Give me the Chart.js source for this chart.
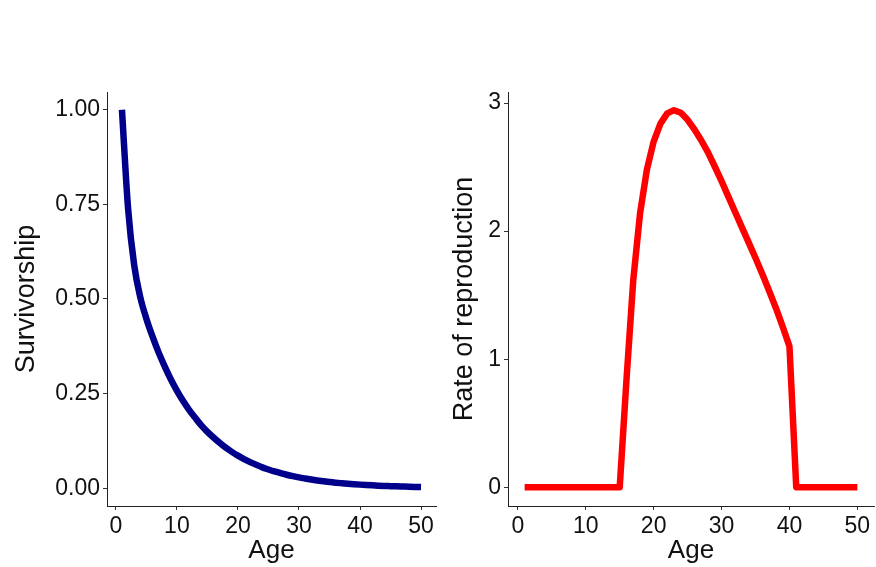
<!DOCTYPE html>
<html>
<head>
<meta charset="utf-8">
<script src="https://cdn.jsdelivr.net/npm/chart.js@4"></script>
<style>
    html, body { margin: 0; padding: 0; background: #fff; }
    #wrap { position: relative; width: 876px; height: 567px; }
    #left-chart { position: absolute; left: 0; top: 0; }
    #right-chart { position: absolute; left: 445px; top: 0; }
</style>
</head>
<body>
<div id="wrap">
    <canvas id="left-chart" width="445" height="567"></canvas>
    <canvas id="right-chart" width="431" height="567"></canvas>
</div>
<script>
const ages = [1, 2, 3, 4, 5, 6, 7, 8, 9, 10,
    11, 12, 13, 14, 15, 16, 17, 18, 19, 20,
    21, 22, 23, 24, 25, 26, 27, 28, 29, 30,
    31, 32, 33, 34, 35, 36, 37, 38, 39, 40,
    41, 42, 43, 44, 45, 46, 47, 48, 49, 50];

const survivorship = [1.00, 0.74, 0.59, 0.505, 0.448, 0.401, 0.359, 0.322, 0.288, 0.258,
    0.231, 0.207, 0.186, 0.166, 0.149, 0.134, 0.120, 0.107, 0.096, 0.086,
    0.077, 0.069, 0.062, 0.055, 0.0495, 0.0443, 0.0397, 0.0356, 0.0319, 0.0285,
    0.0256, 0.0229, 0.0205, 0.0184, 0.0165, 0.0147, 0.0132, 0.0118, 0.0106, 0.0095,
    0.0085, 0.0076, 0.0068, 0.0061, 0.0055, 0.0049, 0.0044, 0.0039, 0.0035, 0.0032];

const reproduction = [0, 0, 0, 0, 0, 0, 0, 0, 0, 0,
    0, 0, 0, 0, 0, 0.84, 1.62, 2.14, 2.48, 2.70,
    2.84, 2.92, 2.945, 2.925, 2.87, 2.795, 2.71, 2.615, 2.505, 2.39,
    2.27, 2.15, 2.03, 1.91, 1.79, 1.665, 1.535, 1.40, 1.255, 1.10,
    0, 0, 0, 0, 0, 0, 0, 0, 0, 0];

const ageTicks = [0, 10, 20, 30, 40, 50];
const survTicks = [0, 0.25, 0.5, 0.75, 1];
const reproTicks = [0, 1, 2, 3];

const FONT = "'Liberation Sans', Arial, Helvetica, sans-serif";
const TEXT = '#111';

function points(ys) {
    return ages.map((a, i) => ({ x: a, y: ys[i] }));
}

function axisCommon(tickValues, fmt) {
    return {
        type: 'linear',
        afterBuildTicks: s => { s.ticks = tickValues.map(v => ({ value: v })); },
        ticks: {
            autoSkip: false,
            maxRotation: 0,
            padding: 3,
            color: TEXT,
            font: { family: FONT, size: 23 },
            callback: fmt
        },
        grid: {
            display: true,
            drawOnChartArea: false,
            drawTicks: true,
            tickLength: 4,
            tickColor: '#333',
            tickWidth: 1
        },
        border: { display: true, color: '#222', width: 1 }
    };
}

function makeChart(id, values, color, smooth, yMin, yMax, yTicks, yFmt, yTitle, yWidth, yTitlePad, rightPad) {
    const xAxis = axisCommon(ageTicks, v => String(v));
    xAxis.min = -1.45;
    xAxis.max = 52.45;
    xAxis.position = 'bottom';
    xAxis.title = {
        display: true,
        text: 'Age',
        color: TEXT,
        font: { family: FONT, size: 26 },
        padding: { top: 0, bottom: 1 }
    };
    xAxis.afterFit = s => { s.height = 61; };

    const yAxis = axisCommon(yTicks, yFmt);
    yAxis.min = yMin;
    yAxis.max = yMax;
    yAxis.position = 'left';
    yAxis.title = {
        display: true,
        text: yTitle,
        color: TEXT,
        font: { family: FONT, size: 27 },
        padding: { top: yTitlePad, bottom: 0 }
    };
    yAxis.afterFit = s => { s.width = yWidth; };

    return new Chart(document.getElementById(id), {
        type: 'line',
        data: {
            datasets: [{
                data: points(values),
                borderColor: color,
                borderWidth: 6.5,
                borderCapStyle: 'butt',
                borderJoinStyle: 'round',
                pointRadius: 0,
                cubicInterpolationMode: smooth ? 'monotone' : 'default',
                tension: 0,
                fill: false
            }]
        },
        options: {
            responsive: false,
            animation: false,
            layout: { padding: { top: 92, right: rightPad, left: 0, bottom: 0 } },
            plugins: {
                legend: { display: false },
                tooltip: { enabled: false }
            },
            scales: { x: xAxis, y: yAxis }
        }
    });
}

makeChart('left-chart', survivorship, '#00008b', true, -0.047, 1.047, survTicks,
    v => Number(v).toFixed(2), 'Survivorship', 107, 10, 9);
makeChart('right-chart', reproduction, '#ff0000', false, -0.147, 3.087, reproTicks,
    v => String(v), 'Rate of reproduction', 63, 3, 2);
</script>
</body>
</html>
